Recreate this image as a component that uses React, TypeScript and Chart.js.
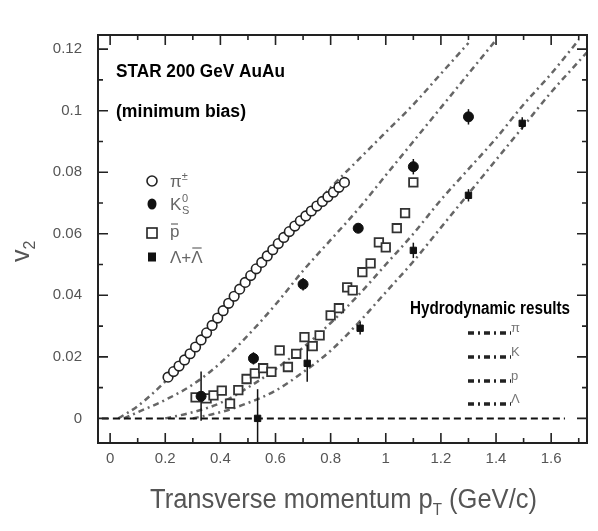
import React, { useEffect, useRef } from "react";
import { Chart, registerables } from "chart.js";

Chart.register(...registerables);

// ---------- data ----------
const pionPt = [0.21, 0.23, 0.25, 0.27, 0.29, 0.31, 0.33, 0.35, 0.37, 0.39, 0.41, 0.43, 0.45, 0.47, 0.49, 0.51, 0.53, 0.55, 0.57, 0.59, 0.61, 0.63, 0.65, 0.67, 0.69, 0.71, 0.73, 0.75, 0.77, 0.79, 0.81, 0.83, 0.85];
const pionV2 = [0.0134, 0.0152, 0.017, 0.019, 0.021, 0.0232, 0.0255, 0.0278, 0.0302, 0.0326, 0.035, 0.0374, 0.0397, 0.042, 0.0442, 0.0464, 0.0486, 0.0507, 0.0528, 0.0548, 0.0568, 0.0588, 0.0607, 0.0625, 0.0642, 0.0658, 0.0674, 0.069, 0.0705, 0.072, 0.0735, 0.0751, 0.0767];

const kaonPt = [0.33, 0.52, 0.7, 0.9, 1.1, 1.3];
const kaonV2 = [0.0072, 0.0195, 0.0436, 0.0618, 0.0818, 0.098];
const kaonErr = [0.008, 0.002, 0.002, 0.0015, 0.0025, 0.0025];

const pbarPt = [0.31, 0.35, 0.375, 0.405, 0.435, 0.465, 0.495, 0.525, 0.555, 0.585, 0.615, 0.645, 0.675, 0.705, 0.735, 0.76, 0.8, 0.83, 0.86, 0.88, 0.915, 0.945, 0.975, 1.0, 1.04, 1.07, 1.1];
const pbarV2 = [0.0068, 0.0065, 0.0075, 0.009, 0.0048, 0.0092, 0.0128, 0.0146, 0.0163, 0.0151, 0.0221, 0.0167, 0.021, 0.0264, 0.0235, 0.027, 0.0335, 0.0358, 0.0426, 0.0416, 0.0475, 0.0504, 0.0572, 0.0556, 0.0618, 0.0667, 0.0767];

const lambdaPt = [0.535, 0.715, 0.907, 1.1, 1.3, 1.495];
const lambdaV2 = [0.0, 0.0179, 0.0293, 0.0546, 0.0725, 0.0959];
const lambdaErr = [0.0095, 0.006, 0.002, 0.0025, 0.002, 0.002];

const hydroPiPt = [0.03, 0.1, 0.2, 0.3, 0.4, 0.5, 0.6, 0.7, 0.8, 0.9, 1.0, 1.1, 1.2, 1.3];
const hydroPiV2 = [0.0, 0.004, 0.012, 0.022, 0.033, 0.044, 0.055, 0.065, 0.075, 0.084, 0.093, 0.102, 0.112, 0.122];
const hydroKPt = [0.05, 0.1, 0.2, 0.3, 0.4, 0.5, 0.6, 0.7, 0.8, 0.9, 1.0, 1.1, 1.2, 1.3, 1.4];
const hydroKV2 = [0.0, 0.002, 0.006, 0.011, 0.018, 0.027, 0.037, 0.048, 0.058, 0.068, 0.079, 0.09, 0.101, 0.112, 0.123];
const hydroPPt = [0.2, 0.3, 0.4, 0.5, 0.6, 0.7, 0.8, 0.9, 1.0, 1.1, 1.2, 1.3, 1.4, 1.5, 1.6, 1.7];
const hydroPV2 = [0.0, 0.002, 0.005, 0.01, 0.016, 0.023, 0.031, 0.04, 0.05, 0.06, 0.071, 0.081, 0.091, 0.102, 0.112, 0.123];
const hydroLPt = [0.3, 0.4, 0.5, 0.6, 0.7, 0.8, 0.9, 1.0, 1.1, 1.2, 1.3, 1.4, 1.5, 1.6, 1.7, 1.73];
const hydroLV2 = [0.0, 0.002, 0.005, 0.009, 0.015, 0.022, 0.031, 0.041, 0.051, 0.062, 0.073, 0.084, 0.095, 0.106, 0.116, 0.119];

const zeroPt = [-0.03, 1.65];
const zeroV2 = [0, 0];

const xTickValues = [0, 0.2, 0.4, 0.6, 0.8, 1.0, 1.2, 1.4, 1.6];
const xTickLabels = ["0", "0.2", "0.4", "0.6", "0.8", "1", "1.2", "1.4", "1.6"];
const yTickValues = [0, 0.02, 0.04, 0.06, 0.08, 0.1, 0.12];
const yTickLabels = ["0", "0.02", "0.04", "0.06", "0.08", "0.1", "0.12"];
const xMinorValues = [0.1, 0.3, 0.5, 0.7, 0.9, 1.1, 1.3, 1.5, 1.7];
const yMinorValues = [0.01, 0.03, 0.05, 0.07, 0.09, 0.11];

const FONT = "'Liberation Sans', Arial, sans-serif";
const HYDRO_DASH = [6, 4, 2, 4];

const pts = (xs: number[], ys: number[]) => xs.map((x, i) => ({ x, y: ys[i] }));

type Part = { t: string; dy?: number; size: number; bold?: boolean };

function partsWidth(ctx: CanvasRenderingContext2D, parts: Part[]) {
  let w = 0;
  for (const p of parts) {
    ctx.font = `${p.bold ? "bold " : ""}${p.size}px ${FONT}`;
    w += ctx.measureText(p.t).width;
  }
  return w;
}

function drawScript(ctx: CanvasRenderingContext2D, parts: Part[], x: number, y: number, color: string, targetWidth?: number) {
  const natural = partsWidth(ctx, parts);
  const sx = targetWidth ? targetWidth / natural : 1;
  ctx.save();
  ctx.translate(x, y);
  ctx.scale(sx, 1);
  let cx = 0;
  ctx.fillStyle = color;
  ctx.textBaseline = "alphabetic";
  ctx.textAlign = "left";
  for (const p of parts) {
    ctx.font = `${p.bold ? "bold " : ""}${p.size}px ${FONT}`;
    ctx.fillText(p.t, cx, p.dy || 0);
    cx += ctx.measureText(p.t).width;
  }
  ctx.restore();
  return x + natural * sx;
}

const decorPlugin = {
  id: "decor",
  afterDatasetsDraw(chart: any) {
    const ctx: CanvasRenderingContext2D = chart.ctx;
    const xs = chart.scales.x;
    const ys = chart.scales.y;
    const a = chart.chartArea;
    ctx.save();

    // error bars
    const drawErr = (px: number[], py: number[], pe: number[]) => {
      ctx.strokeStyle = "#111";
      ctx.lineWidth = 1.5;
      px.forEach((x, i) => {
        const X = xs.getPixelForValue(x);
        const y1 = ys.getPixelForValue(py[i] + pe[i]);
        const y2 = ys.getPixelForValue(py[i] - pe[i]);
        ctx.beginPath();
        ctx.moveTo(X, y1);
        ctx.lineTo(X, Math.min(y2, a.bottom));
        ctx.stroke();
      });
    };
    drawErr(kaonPt, kaonV2, kaonErr);
    drawErr(lambdaPt, lambdaV2, lambdaErr);

    // frame
    ctx.strokeStyle = "#222";
    ctx.lineWidth = 2;
    ctx.strokeRect(a.left, a.top, a.right - a.left, a.bottom - a.top);

    // ticks
    ctx.lineWidth = 1.6;
    const vt = (v: number, len: number) => {
      const X = xs.getPixelForValue(v);
      ctx.beginPath();
      ctx.moveTo(X, a.bottom);
      ctx.lineTo(X, a.bottom - len);
      ctx.moveTo(X, a.top);
      ctx.lineTo(X, a.top + len);
      ctx.stroke();
    };
    const ht = (v: number, len: number) => {
      const Y = ys.getPixelForValue(v);
      ctx.beginPath();
      ctx.moveTo(a.left, Y);
      ctx.lineTo(a.left + len, Y);
      ctx.moveTo(a.right, Y);
      ctx.lineTo(a.right - len, Y);
      ctx.stroke();
    };
    xTickValues.forEach((v) => vt(v, 10));
    xMinorValues.forEach((v) => vt(v, 5));
    yTickValues.forEach((v) => ht(v, 10));
    yMinorValues.forEach((v) => ht(v, 5));

    // axis titles
    const gray = "#555";
    drawScript(
      ctx,
      [{ t: "Transverse momentum p", size: 27 }, { t: "T", size: 16, dy: 7 }, { t: " (GeV/c)", size: 27 }],
      150,
      508,
      gray,
      387
    );

    ctx.save();
    ctx.translate(29, 262);
    ctx.rotate(-Math.PI / 2);
    drawScript(ctx, [{ t: "v", size: 25 }, { t: "2", size: 16, dy: 6 }], 0, 0, gray);
    ctx.restore();

    // annotations
    drawScript(ctx, [{ t: "STAR 200 GeV AuAu", size: 18, bold: true }], 116, 77, "#000", 169);
    drawScript(ctx, [{ t: "(minimum bias)", size: 18, bold: true }], 116, 117, "#000", 130);
    drawScript(ctx, [{ t: "Hydrodynamic results", size: 18, bold: true }], 410, 314, "#000", 160);

    // data legend
    const lx = 152;
    const legY = [181, 204, 233, 257];
    ctx.lineWidth = 1.6;
    ctx.strokeStyle = "#222";
    ctx.fillStyle = "#fff";
    ctx.beginPath();
    ctx.arc(lx, legY[0], 5, 0, Math.PI * 2);
    ctx.fill();
    ctx.stroke();
    ctx.fillStyle = "#111";
    ctx.beginPath();
    ctx.ellipse(lx, legY[1], 4.5, 5.5, 0, 0, Math.PI * 2);
    ctx.fill();
    ctx.fillStyle = "#fff";
    ctx.fillRect(lx - 5, legY[2] - 5, 10, 10);
    ctx.strokeRect(lx - 5, legY[2] - 5, 10, 10);
    ctx.fillStyle = "#111";
    ctx.fillRect(lx - 4, legY[3] - 4.5, 8, 9);

    const lg = "#666";
    drawScript(ctx, [{ t: "π", size: 17 }, { t: "±", size: 11, dy: -7 }], 170, legY[0] + 6, lg);
    drawScript(ctx, [{ t: "K", size: 17 }], 170, legY[1] + 6, lg);
    drawScript(ctx, [{ t: "0", size: 11, dy: -8 }], 182, legY[1] + 6, lg);
    drawScript(ctx, [{ t: "S", size: 11, dy: 4 }], 182, legY[1] + 6, lg);
    drawScript(ctx, [{ t: "p", size: 17 }], 170, legY[2] + 4, lg);
    ctx.strokeStyle = lg;
    ctx.lineWidth = 1.2;
    ctx.beginPath();
    ctx.moveTo(171, legY[2] - 9);
    ctx.lineTo(178, legY[2] - 9);
    ctx.stroke();
    const e = drawScript(ctx, [{ t: "Λ+", size: 17 }], 170, legY[3] + 6, lg);
    const lw = drawScript(ctx, [{ t: "Λ", size: 17 }], e, legY[3] + 6, lg);
    ctx.beginPath();
    ctx.moveTo(e + 1, legY[3] - 9);
    ctx.lineTo(lw - 1, legY[3] - 9);
    ctx.stroke();

    // hydro legend
    const hy = [333, 357, 381, 404];
    const hl = ["π", "K", "p", "Λ"];
    ctx.strokeStyle = "#222";
    ctx.lineWidth = 3.5;
    ctx.setLineDash(HYDRO_DASH);
    hy.forEach((y) => {
      ctx.beginPath();
      ctx.moveTo(468, y);
      ctx.lineTo(511, y);
      ctx.stroke();
    });
    ctx.setLineDash([]);
    hy.forEach((y, i) => {
      drawScript(ctx, [{ t: hl[i], size: 13 }], 511, y - 1, "#777");
    });

    ctx.restore();
  },
};

export default function App() {
  const ref = useRef<HTMLCanvasElement | null>(null);
  useEffect(() => {
    document.body.style.margin = "0";
    const canvas = ref.current!;
    const hydroDs = (xs: number[], ys: number[]) => ({
      type: "line" as const,
      data: pts(xs, ys),
      showLine: true,
      borderColor: "#666",
      borderWidth: 2.5,
      borderDash: HYDRO_DASH,
      pointRadius: 0,
      fill: false,
      cubicInterpolationMode: "monotone" as const,
    });
    const chart = new Chart(canvas, {
      type: "scatter",
      data: {
        datasets: [
          {
            label: "Lambda",
            data: pts(lambdaPt, lambdaV2),
            pointStyle: "rect",
            pointRadius: 4.5,
            backgroundColor: "#111",
            borderColor: "#111",
            borderWidth: 1,
          },
          {
            label: "K0s",
            data: pts(kaonPt, kaonV2),
            pointStyle: "circle",
            pointRadius: 5,
            backgroundColor: "#111",
            borderColor: "#111",
            borderWidth: 1,
          },
          {
            label: "pbar",
            data: pts(pbarPt, pbarV2),
            pointStyle: "rect",
            pointRadius: 6,
            backgroundColor: "#fff",
            borderColor: "#333",
            borderWidth: 1.8,
          },
          {
            label: "pion",
            data: pts(pionPt, pionV2),
            pointStyle: "circle",
            pointRadius: 4.8,
            backgroundColor: "#fff",
            borderColor: "#222",
            borderWidth: 1.6,
          },
          {
            type: "line",
            label: "zero",
            data: pts(zeroPt, zeroV2),
            showLine: true,
            borderColor: "#111",
            borderWidth: 2,
            borderDash: [7, 4],
            pointRadius: 0,
          } as any,
          hydroDs(hydroPiPt, hydroPiV2) as any,
          hydroDs(hydroKPt, hydroKV2) as any,
          hydroDs(hydroPPt, hydroPV2) as any,
          hydroDs(hydroLPt, hydroLV2) as any,
        ],
      },
      options: {
        responsive: false,
        animation: false,
        events: [],
        layout: { padding: { top: 35, right: 11, left: 0, bottom: 0 } },
        plugins: { legend: { display: false }, tooltip: { enabled: false } },
        scales: {
          x: {
            type: "linear",
            min: -0.044,
            max: 1.73,
            afterFit: (s: any) => {
              s.height = 88;
            },
            afterBuildTicks: (s: any) => {
              s.ticks = xTickValues.map((v) => ({ value: v }));
            },
            ticks: {
              callback: (_v: any, i: number) => xTickLabels[i],
              color: "#555",
              font: { family: FONT, size: 15 },
              padding: 7,
              maxRotation: 0,
              autoSkip: false,
            },
            grid: { display: false, drawTicks: false },
            border: { display: false },
          },
          y: {
            type: "linear",
            min: -0.008,
            max: 0.1246,
            afterFit: (s: any) => {
              s.width = 98;
            },
            afterBuildTicks: (s: any) => {
              s.ticks = yTickValues.map((v) => ({ value: v }));
            },
            ticks: {
              callback: (_v: any, i: number) => yTickLabels[i],
              color: "#555",
              font: { family: FONT, size: 15 },
              padding: 16,
              autoSkip: false,
            },
            grid: { display: false, drawTicks: false },
            border: { display: false },
          },
        },
      },
      plugins: [decorPlugin],
    });
    return () => chart.destroy();
  }, []);
  return (
    <div style={{ width: 598, height: 531, background: "#fff" }}>
      <canvas ref={ref} width={598} height={531} style={{ display: "block" }} />
    </div>
  );
}
